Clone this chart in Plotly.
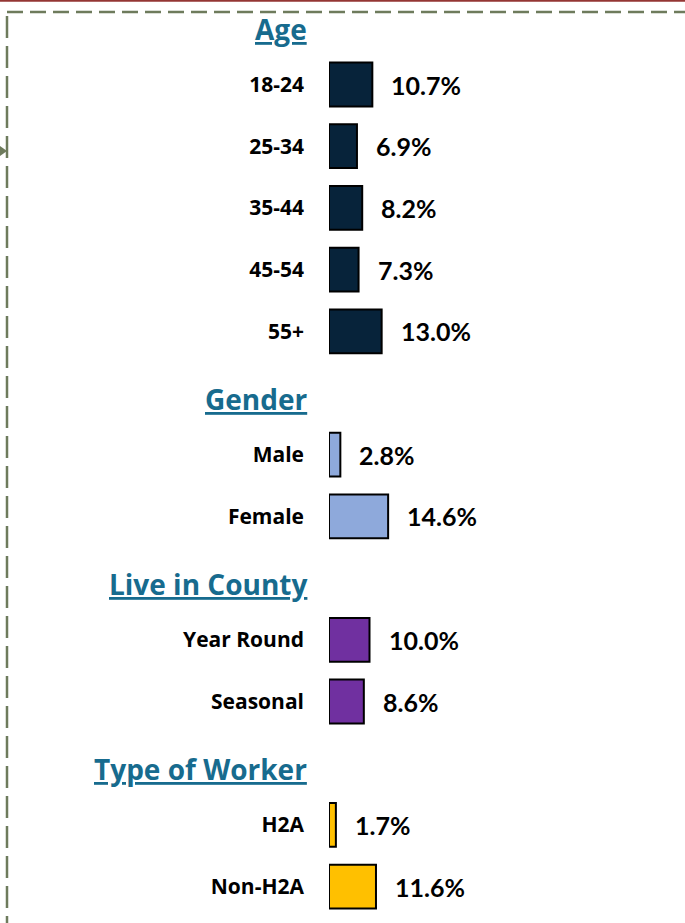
import plotly.graph_objects as go

# ---------------- data ----------------
group_titles = ["Age", "Gender", "Live in County", "Type of Worker"]

age_labels = ["18-24", "25-34", "35-44", "45-54", "55+"]
age_values = [10.7, 6.9, 8.2, 7.3, 13.0]

gender_labels = ["Male", "Female"]
gender_values = [2.8, 14.6]

county_labels = ["Year Round", "Seasonal"]
county_values = [10.0, 8.6]

worker_labels = ["H2A", "Non-H2A"]
worker_values = [1.7, 11.6]

group_colors = ["#07233A", "#8EA9DB", "#7030A0", "#FFC000"]

groups = [
    (group_titles[0], age_labels, age_values, group_colors[0]),
    (group_titles[1], gender_labels, gender_values, group_colors[1]),
    (group_titles[2], county_labels, county_values, group_colors[2]),
    (group_titles[3], worker_labels, worker_values, group_colors[3]),
]

# ---------------- layout constants ----------------
W, H = 685, 923
ML, MR, MT, MB = 329, 0, 0, 0
PX_PER_PCT = 4.05
PITCH = 61.7
FIRST_SLOT_PX = 22.8

plot_w = W - ML - MR
x_max = plot_w / PX_PER_PCT
y_top = -FIRST_SLOT_PX / PITCH
y_bot = (H - FIRST_SLOT_PX) / PITCH

LABEL_FONT = "Open Sans"
VALUE_FONT = "Lato"
HEAD_FONT = "Open Sans"


def pp(px, py):
    """pixel -> paper coords"""
    return (px - ML) / plot_w, 1 - py / H


fig = go.Figure()
annotations = []
tickvals, ticktext = [], []

slot = 0
for title, labels, values, color in groups:
    header_pos = slot
    slot += 1
    ys = list(range(slot, slot + len(labels)))
    slot += len(labels)
    fig.add_trace(go.Bar(
        x=values, y=ys, orientation="h", width=0.71,
        marker=dict(color=color, line=dict(color="#000000", width=2)),
        hoverinfo="skip", showlegend=False,
    ))
    tickvals += ys
    ticktext += ["<b>%s</b>" % l for l in labels]
    for v, yv in zip(values, ys):
        annotations.append(dict(
            x=v, y=yv, xref="x", yref="y", xanchor="left", yanchor="middle",
            xshift=17, yshift=0, showarrow=False,
            text="<b>%.1f%%</b>" % v,
            font=dict(family=VALUE_FONT, size=25, color="#000000"),
        ))
    annotations.append(dict(
        x=0, y=header_pos, xref="x", yref="y", xanchor="right", yanchor="middle",
        xshift=-20, yshift=-6, showarrow=False,
        text="<b><u>%s</u></b>" % title,
        font=dict(family=HEAD_FONT, size=28, color="#176B8E"),
    ))

# decorations: dashed frame, top red rule, small arrow tip
shapes = []
x0, y0 = pp(7, 12)
x1, _ = pp(W, 12)
shapes.append(dict(type="line", xref="paper", yref="paper", x0=x0, x1=x1, y0=y0, y1=y0,
                   line=dict(color="#6E7B5C", width=2.5, dash="16px,7px")))
lx, ly0 = pp(7, 16)
_, ly1 = pp(7, H)
shapes.append(dict(type="line", xref="paper", yref="paper", x0=lx, x1=lx, y0=ly0, y1=ly1,
                   line=dict(color="#6E7B5C", width=2.5, dash="22px,8px")))
rx0, ry = pp(0, 0.8)
rx1, _ = pp(W, 0.8)
shapes.append(dict(type="line", xref="paper", yref="paper", x0=rx0, x1=rx1, y0=ry, y1=ry,
                   line=dict(color="#943634", width=2)))
a1 = pp(0, 146)
a2 = pp(7, 151)
a3 = pp(0, 156)
shapes.append(dict(type="path", xref="paper", yref="paper",
                   path="M %f %f L %f %f L %f %f Z" % (a1[0], a1[1], a2[0], a2[1], a3[0], a3[1]),
                   fillcolor="#6E7B5C", line=dict(width=0)))

fig.update_layout(
    width=W, height=H,
    margin=dict(l=ML, r=MR, t=MT, b=MB, pad=0),
    plot_bgcolor="#FFFFFF", paper_bgcolor="#FFFFFF",
    barmode="overlay",
    xaxis=dict(range=[0, x_max], visible=False, fixedrange=True),
    yaxis=dict(range=[y_bot, y_top], tickvals=tickvals, ticktext=ticktext,
               showgrid=False, zeroline=False, showline=False, ticks="",
               ticklabelstandoff=24,
               tickfont=dict(family=LABEL_FONT, size=21, color="#000000"), fixedrange=True),
    annotations=annotations,
    shapes=shapes,
)

fig.write_html("out.html", config={"displayModeBar": False},
               post_script="document.body.style.margin='0';document.body.style.overflow='hidden';")
